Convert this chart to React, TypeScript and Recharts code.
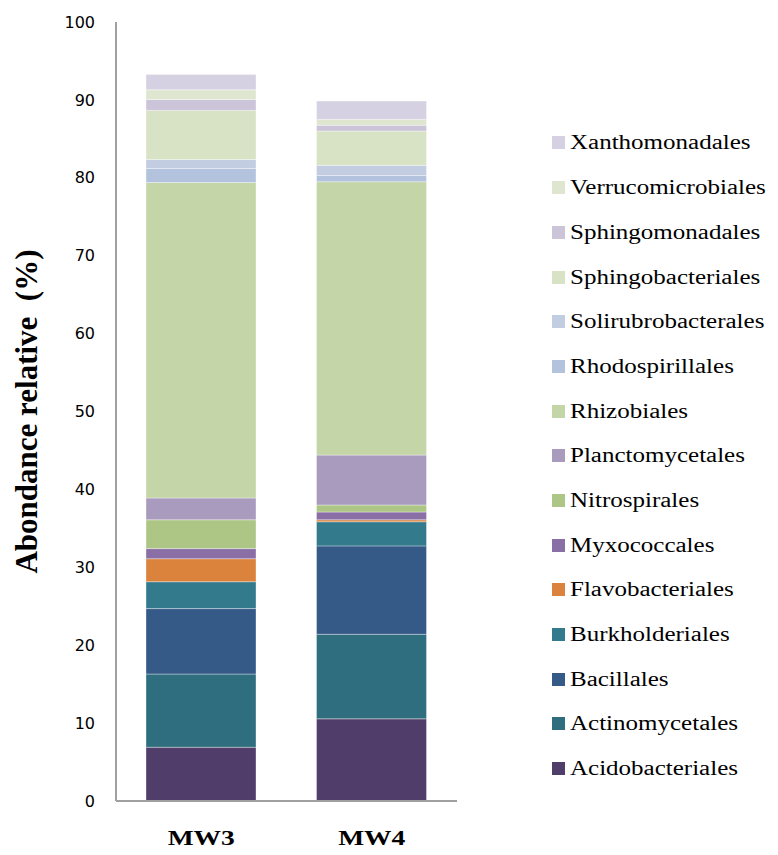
import React from "react";
import { BarChart, Bar, XAxis, YAxis, Legend } from "recharts";

const samples: string[] = ["MW3", "MW4"];

// bottom to top stacking order
const orders: string[] = [
  "Acidobacteriales",
  "Actinomycetales",
  "Bacillales",
  "Burkholderiales",
  "Flavobacteriales",
  "Myxococcales",
  "Nitrospirales",
  "Planctomycetales",
  "Rhizobiales",
  "Rhodospirillales",
  "Solirubrobacterales",
  "Sphingobacteriales",
  "Sphingomonadales",
  "Verrucomicrobiales",
  "Xanthomonadales",
];

const mw3Values: number[] = [6.9, 9.4, 8.4, 3.45, 2.95, 1.3, 3.7, 2.8, 40.5, 1.8, 1.15, 6.3, 1.4, 1.25, 1.95];
const mw4Values: number[] = [10.55, 10.85, 11.35, 3.1, 0.25, 1.0, 0.9, 6.4, 35.1, 0.8, 1.3, 4.4, 0.75, 0.75, 2.35];

const yTicks: number[] = [0, 10, 20, 30, 40, 50, 60, 70, 80, 90, 100];

const colors: string[] = [
  "#503d69",
  "#2e6e7f",
  "#365a88",
  "#337a8c",
  "#db823d",
  "#8a6fa6",
  "#aec685",
  "#a99bbe",
  "#c4d5a8",
  "#b4c3dd",
  "#c3cde1",
  "#d8e2c5",
  "#ccc4d8",
  "#dee6d0",
  "#d5d1e2",
];

const serif = "'Liberation Serif', 'Times New Roman', serif";

const valuesBySample: number[][] = [mw3Values, mw4Values];

const data = samples.map((s, i) => {
  const row: Record<string, string | number> = { name: s };
  orders.forEach((o, j) => {
    row[o] = valuesBySample[i][j];
  });
  return row;
});

const renderLegend = () => {
  const items = orders.map((o, i) => ({ name: o, color: colors[i] })).reverse();
  return (
    <div>
      {items.map((it) => (
        <div
          key={it.name}
          style={{ height: 44.7, display: "flex", alignItems: "center" }}
        >
          <span
            style={{
              display: "inline-block",
              width: 13,
              height: 13,
              background: it.color,
              marginRight: 5,
            }}
          />
          <span
            style={{
              display: "inline-block",
              fontFamily: serif,
              fontSize: 20,
              color: "#000",
              transform: "scaleX(1.25)",
              transformOrigin: "left center",
              whiteSpace: "nowrap",
            }}
          >
            {it.name}
          </span>
        </div>
      ))}
    </div>
  );
};

// sample names are drawn a little wide, like the original
const SampleTick = (props: any) => {
  const { x, y, payload } = props;
  return (
    <text
      transform={`translate(${x},${y}) scale(1.25,1)`}
      textAnchor="middle"
      dy="0.71em"
      fill="#000"
      fontFamily={serif}
      fontWeight="bold"
      fontSize={22}
    >
      {payload.value}
    </text>
  );
};

export default function App() {
  return (
    <BarChart
      width={770}
      height={847}
      data={data}
      margin={{ top: 14, right: 101, left: 0, bottom: 0 }}
    >
      <XAxis
        dataKey="name"
        height={54}
        axisLine={{ stroke: "#a0a0a0", strokeWidth: 2 }}
        tickLine={false}
        tickSize={6}
        tickMargin={22}
        tick={<SampleTick />}
      />
      <YAxis
        width={108}
        domain={[0, 100]}
        ticks={yTicks}
        interval={0}
        axisLine={{ stroke: "#a0a0a0", strokeWidth: 2 }}
        tickLine={false}
        tickSize={6}
        tickMargin={15}
        tick={{ fill: "#000", fontFamily: "'DejaVu Sans', sans-serif", fontSize: 16 }}
        label={{
          value: "Abondance relative\u00a0 (%)",
          angle: -90,
          position: "insideLeft",
          offset: 18,
          style: {
            textAnchor: "middle",
            fill: "#000",
            fontFamily: serif,
            fontWeight: "bold",
            fontSize: 31,
          },
        }}
      />
      <Legend
        layout="vertical"
        align="right"
        verticalAlign="top"
        content={renderLegend}
        wrapperStyle={{ left: 544, top: 112.6, width: 220 }}
      />
      {orders.map((o, i) => (
        <Bar
          key={o}
          dataKey={o}
          stackId="a"
          fill={colors[i]}
          stroke="#ffffff"
          strokeOpacity={0.35}
          strokeWidth={1}
          barSize={110}
          isAnimationActive={false}
        />
      ))}
    </BarChart>
  );
}
